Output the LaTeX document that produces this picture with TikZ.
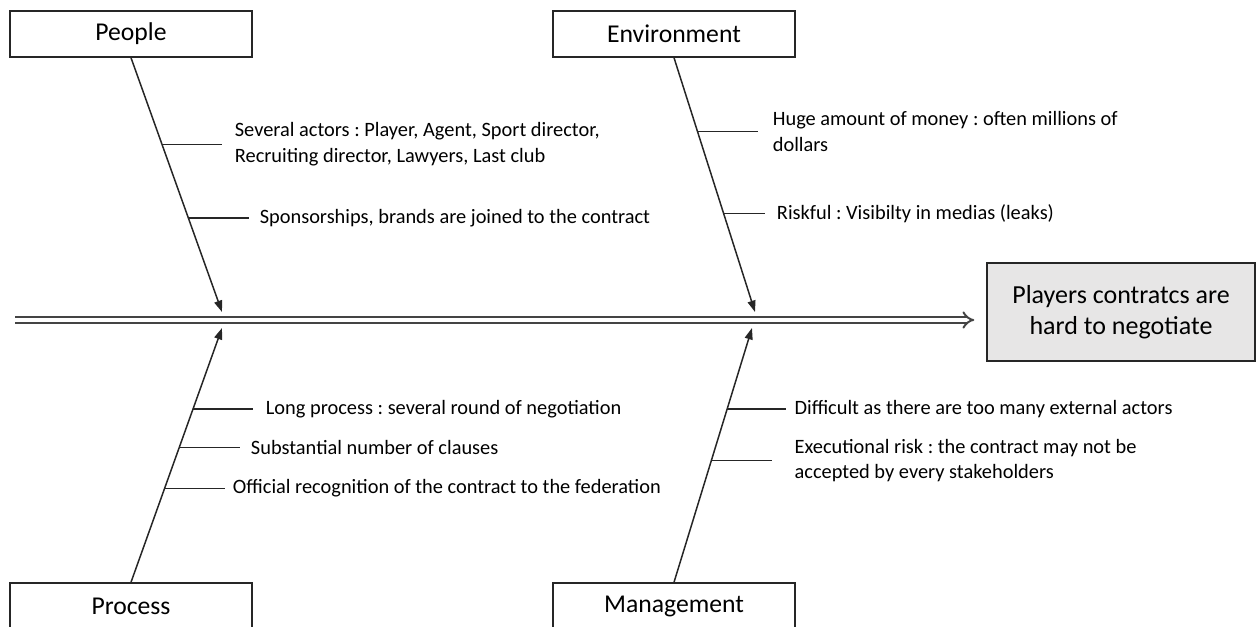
\documentclass[tikz,border=0pt]{standalone}
\usepackage{fontspec}
\setmainfont{Carlito}
\frenchspacing
\usetikzlibrary{arrows.meta,positioning}
\definecolor{gray800}{HTML}{262626}
\definecolor{gray600}{HTML}{444444}
\definecolor{gray200}{HTML}{E7E6E6}

\begin{document}
\begin{tikzpicture}
  % Styles
  \tikzset{
    category/.style={draw=gray800, line width=0.85pt, minimum width=4.84cm, minimum height=0.92cm, inner sep=0pt, font=\fontsize{14.6}{17}\selectfont},
    effect/.style={draw=gray800, line width=0.85pt, fill=gray200, minimum width=5.36cm, minimum height=1.96cm, align=center, font=\fontsize{14.8}{17.5}\selectfont},
    cause/.style={align=left, inner sep=0pt, font=\fontsize{11.6}{14.6}\selectfont},
    bone/.style={-{Triangle[length=6.5pt,width=4.5pt]}, line width=0.85pt, draw=gray800},
    twig/.style={line width=0.85pt, draw=gray800},
    spine/.style={-{Implies}, draw=gray600, line width=1.1pt, double, double distance=2.2pt},
  }
  \useasboundingbox (0,0) rectangle (25.12,-12.54);
  \clip (0,0) rectangle (25.12,-12.54);

  % Categories and effect
  \node[category] (people) at (2.62,-0.68) {People};
  \node[category] (environment) at (13.48,-0.68) {Environment};
  \node[category] (process) at (2.62,-12.12) {Process};
  \node[category] (management) at (13.48,-12.12) {Management};
  \node[effect] (effect) at (22.42,-6.24) {Players contratcs are\\hard to negotiate};

  % Spine
  \coordinate (tail) at (0.3,-6.4);
  \draw[spine, shorten >=0.24cm] (tail) -- (tail -| effect.west);

  % Bones
  \coordinate (pplhead) at (4.44,-6.24);
  \coordinate (envhead) at (15.1,-6.24);
  \coordinate (prchead) at (4.44,-6.56);
  \coordinate (mgthead) at (15.04,-6.56);
  \draw[bone] (people.south) -- (pplhead);
  \draw[bone] (environment.south) -- (envhead);
  \draw[bone] (process.north) -- (prchead);
  \draw[bone] (management.north) -- (mgthead);

  \path (people.south) -- (pplhead) coordinate[pos=0.341] (ppl1) coordinate[pos=0.631] (ppl2);
  \path (environment.south) -- (envhead) coordinate[pos=0.29] (env1) coordinate[pos=0.612] (env2);
  \path (process.north) -- (prchead) coordinate[pos=0.682] (prc1) coordinate[pos=0.529] (prc2) coordinate[pos=0.369] (prc3);
  \path (management.north) -- (mgthead) coordinate[pos=0.682] (mgt1) coordinate[pos=0.478] (mgt2);

  % Causes
  \node[cause, right=1.45cm of ppl1] (ppl1txt) {Several actors : Player, Agent, Sport director,\\Recruiting director, Lawyers, Last club};
  \node[cause, right=1.42cm of ppl2] (ppl2txt) {Sponsorships, brands are joined to the contract};
  \node[cause, right=1.5cm of env1] (env1txt) {Huge amount of money : often millions of\\dollars};
  \node[cause, right=1.06cm of env2] (env2txt) {Riskful : Visibilty in medias (leaks)};
  \node[cause, right=1.45cm of prc1] (prc1txt) {Long process : several round of negotiation};
  \node[cause, right=1.43cm of prc2] (prc2txt) {Substantial number of clauses};
  \node[cause, right=1.36cm of prc3] (prc3txt) {Official recognition of the contract to the federation};
  \node[cause, right=1.34cm of mgt1] (mgt1txt) {Difficult as there are too many external actors};
  \node[cause, right=1.66cm of mgt2] (mgt2txt) {Executional risk : the contract may not be\\accepted by every stakeholders};

  \draw[twig, shorten >=0.26cm] (ppl1) -- (ppl1txt);
  \draw[twig, shorten >=0.2cm] (ppl2) -- (ppl2txt);
  \draw[twig, shorten >=0.3cm] (env1) -- (env1txt);
  \draw[twig, shorten >=0.24cm] (env2) -- (env2txt);
  \draw[twig, shorten >=0.26cm] (prc1) -- (prc1txt);
  \draw[twig, shorten >=0.22cm] (prc2) -- (prc2txt);
  \draw[twig, shorten >=0.16cm] (prc3) -- (prc3txt);
  \draw[twig, shorten >=0.16cm] (mgt1) -- (mgt1txt);
  \draw[twig, shorten >=0.44cm] (mgt2) -- (mgt2txt);
\end{tikzpicture}
\end{document}
